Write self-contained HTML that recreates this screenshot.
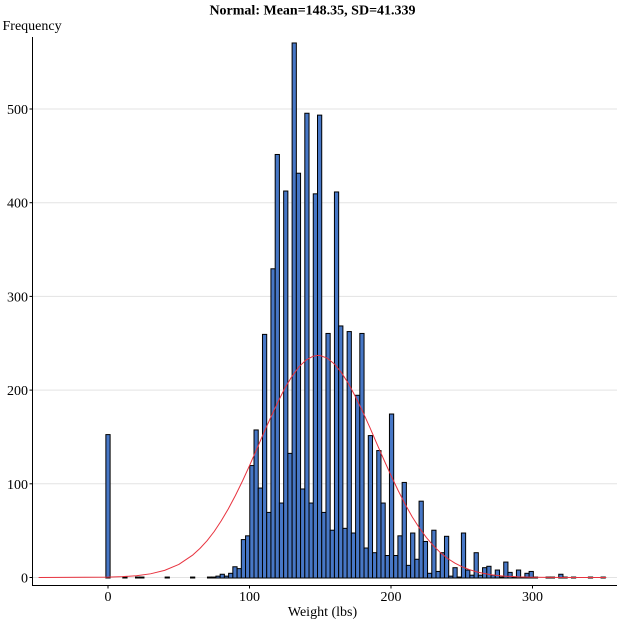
<!DOCTYPE html>
<html><head><meta charset="utf-8"><style>
html,body{margin:0;padding:0;background:#fff;}
svg{display:block;}
text{font-family:"Liberation Serif","Times New Roman",serif;fill:#000;}
</style></head><body>
<svg width="625" height="625" viewBox="0 0 625 625" xmlns="http://www.w3.org/2000/svg">
<rect width="625" height="625" fill="#fff"/>
<g stroke="#e3e3e3" stroke-width="1">
<line x1="33" x2="617" y1="577.5" y2="577.5"/>
<line x1="33" x2="617" y1="483.8" y2="483.8"/>
<line x1="33" x2="617" y1="390.1" y2="390.1"/>
<line x1="33" x2="617" y1="296.4" y2="296.4"/>
<line x1="33" x2="617" y1="202.7" y2="202.7"/>
<line x1="33" x2="617" y1="109" y2="109"/>
</g>
<g fill="#4777c6" stroke="#000" stroke-width="1">
<rect x="105.88" y="434.6" width="4.23" height="143.4"/>
<rect x="122.81" y="577.06" width="4.23" height="0.94"/>
<rect x="135.51" y="577.06" width="4.23" height="0.94"/>
<rect x="139.74" y="577.06" width="4.23" height="0.94"/>
<rect x="165.14" y="577.06" width="4.23" height="0.94"/>
<rect x="190.53" y="577.06" width="4.23" height="0.94"/>
<rect x="207.46" y="577.06" width="4.23" height="0.94"/>
<rect x="211.69" y="577.06" width="4.23" height="0.94"/>
<rect x="215.92" y="576.13" width="4.23" height="1.87"/>
<rect x="220.16" y="574.25" width="4.23" height="3.75"/>
<rect x="224.39" y="576.13" width="4.23" height="1.87"/>
<rect x="228.62" y="573.31" width="4.23" height="4.69"/>
<rect x="232.85" y="566.76" width="4.23" height="11.24"/>
<rect x="237.09" y="568.63" width="4.23" height="9.37"/>
<rect x="241.32" y="539.58" width="4.23" height="38.42"/>
<rect x="245.55" y="535.83" width="4.23" height="42.17"/>
<rect x="249.78" y="465.56" width="4.23" height="112.44"/>
<rect x="254.01" y="429.95" width="4.23" height="148.05"/>
<rect x="258.25" y="488.05" width="4.23" height="89.95"/>
<rect x="262.48" y="334.38" width="4.23" height="243.62"/>
<rect x="266.71" y="512.41" width="4.23" height="65.59"/>
<rect x="270.94" y="268.79" width="4.23" height="309.21"/>
<rect x="275.18" y="154.48" width="4.23" height="423.52"/>
<rect x="279.41" y="503.04" width="4.23" height="74.96"/>
<rect x="283.64" y="191.02" width="4.23" height="386.98"/>
<rect x="287.87" y="453.38" width="4.23" height="124.62"/>
<rect x="292.11" y="42.97" width="4.23" height="535.03"/>
<rect x="296.34" y="173.22" width="4.23" height="404.78"/>
<rect x="300.57" y="488.98" width="4.23" height="89.02"/>
<rect x="304.80" y="113.25" width="4.23" height="464.75"/>
<rect x="309.04" y="503.04" width="4.23" height="74.96"/>
<rect x="313.27" y="193.83" width="4.23" height="384.17"/>
<rect x="317.50" y="115.12" width="4.23" height="462.88"/>
<rect x="321.73" y="512.41" width="4.23" height="65.59"/>
<rect x="325.96" y="333.44" width="4.23" height="244.56"/>
<rect x="330.20" y="530.21" width="4.23" height="47.79"/>
<rect x="334.43" y="191.96" width="4.23" height="386.04"/>
<rect x="338.66" y="325.95" width="4.23" height="252.05"/>
<rect x="342.89" y="528.34" width="4.23" height="49.66"/>
<rect x="347.13" y="331.57" width="4.23" height="246.43"/>
<rect x="351.36" y="533.02" width="4.23" height="44.98"/>
<rect x="355.59" y="395.28" width="4.23" height="182.72"/>
<rect x="359.82" y="333.44" width="4.23" height="244.56"/>
<rect x="364.05" y="548.02" width="4.23" height="29.98"/>
<rect x="368.29" y="435.58" width="4.23" height="142.42"/>
<rect x="372.52" y="552.70" width="4.23" height="25.30"/>
<rect x="376.75" y="450.57" width="4.23" height="127.43"/>
<rect x="380.98" y="503.04" width="4.23" height="74.96"/>
<rect x="385.22" y="555.51" width="4.23" height="22.49"/>
<rect x="389.45" y="414.02" width="4.23" height="163.98"/>
<rect x="393.68" y="555.51" width="4.23" height="22.49"/>
<rect x="397.91" y="535.83" width="4.23" height="42.17"/>
<rect x="402.15" y="482.43" width="4.23" height="95.57"/>
<rect x="406.38" y="565.35" width="4.23" height="12.65"/>
<rect x="410.61" y="533.02" width="4.23" height="44.98"/>
<rect x="414.84" y="559.26" width="4.23" height="18.74"/>
<rect x="419.07" y="501.17" width="4.23" height="76.83"/>
<rect x="423.31" y="541.46" width="4.23" height="36.54"/>
<rect x="427.54" y="573.31" width="4.23" height="4.69"/>
<rect x="431.77" y="530.21" width="4.23" height="47.79"/>
<rect x="436.00" y="571.44" width="4.23" height="6.56"/>
<rect x="440.24" y="552.70" width="4.23" height="25.30"/>
<rect x="444.47" y="536.30" width="4.23" height="41.70"/>
<rect x="448.70" y="576.13" width="4.23" height="1.87"/>
<rect x="452.93" y="567.69" width="4.23" height="10.31"/>
<rect x="457.17" y="577.06" width="4.23" height="0.94"/>
<rect x="461.40" y="533.02" width="4.23" height="44.98"/>
<rect x="465.63" y="570.04" width="4.23" height="7.96"/>
<rect x="469.86" y="575.19" width="4.23" height="2.81"/>
<rect x="474.09" y="552.70" width="4.23" height="25.30"/>
<rect x="478.33" y="575.19" width="4.23" height="2.81"/>
<rect x="482.56" y="567.69" width="4.23" height="10.31"/>
<rect x="486.79" y="566.29" width="4.23" height="11.71"/>
<rect x="491.02" y="575.19" width="4.23" height="2.81"/>
<rect x="495.26" y="570.04" width="4.23" height="7.96"/>
<rect x="499.49" y="577.06" width="4.23" height="0.94"/>
<rect x="503.72" y="562.07" width="4.23" height="15.93"/>
<rect x="507.95" y="572.38" width="4.23" height="5.62"/>
<rect x="512.19" y="577.06" width="4.23" height="0.94"/>
<rect x="516.42" y="570.04" width="4.23" height="7.96"/>
<rect x="520.65" y="577.06" width="4.23" height="0.94"/>
<rect x="524.88" y="573.31" width="4.23" height="4.69"/>
<rect x="529.11" y="571.44" width="4.23" height="6.56"/>
<rect x="533.35" y="577.06" width="4.23" height="0.94"/>
<rect x="546.04" y="577.06" width="4.23" height="0.94"/>
<rect x="550.28" y="577.06" width="4.23" height="0.94"/>
<rect x="558.74" y="574.25" width="4.23" height="3.75"/>
<rect x="562.97" y="577.06" width="4.23" height="0.94"/>
<rect x="571.44" y="577.06" width="4.23" height="0.94"/>
<rect x="588.37" y="577.06" width="4.23" height="0.94"/>
<rect x="601.06" y="577.06" width="4.23" height="0.94"/>
</g>
<polyline fill="none" stroke="#e8333f" stroke-width="1" stroke-linejoin="round" points="38.6,577.5 108,577.14 122.2,576.68 136.3,575.71 150.5,573.81 164.6,570.38 178.8,564.47 192.9,554.9 200,548.4 207.1,540.7 214.2,531.5 221.2,520.9 228.3,508.9 235.4,495.5 242.5,481.0 249.6,465.4 256.6,449.4 263.7,433.1 270.8,417.2 277.9,402.0 284.9,388.1 292.0,376.3 299.1,366.7 306.2,359.9 313.2,356.2 318,355.4 320.3,355.6 327.4,358.2 334.5,364.1 341.6,372.8 348.6,383.9 355.7,397.1 362.8,411.8 369.9,427.6 376.9,443.8 384.0,460.0 391.1,475.7 398.2,490.6 405.3,504.5 412.3,517.0 419.4,528.0 426.5,537.7 433.6,545.9 440.6,552.8 447.7,558.5 454.8,563.1 461.9,566.7 469.0,569.5 476.0,571.7 483.1,573.3 490.2,574.6 497.3,575.5 504.3,576.1 518.5,576.9 532.7,577.2 546.8,577.4 575.1,577.5 606.3,577.5"/>
<g stroke="#000" stroke-width="1" fill="none">
<line x1="32.5" y1="37" x2="32.5" y2="586"/>
<line x1="32" y1="585.5" x2="617" y2="585.5"/>
<line x1="29.5" y1="577.5" x2="32.5" y2="577.5"/>
<line x1="29.5" y1="483.8" x2="32.5" y2="483.8"/>
<line x1="29.5" y1="390.1" x2="32.5" y2="390.1"/>
<line x1="29.5" y1="296.4" x2="32.5" y2="296.4"/>
<line x1="29.5" y1="202.7" x2="32.5" y2="202.7"/>
<line x1="29.5" y1="109" x2="32.5" y2="109"/>
<line x1="108" y1="585.5" x2="108" y2="588.5"/>
<line x1="249.5" y1="585.5" x2="249.5" y2="588.5"/>
<line x1="391" y1="585.5" x2="391" y2="588.5"/>
<line x1="532.5" y1="585.5" x2="532.5" y2="588.5"/>
</g>
<g font-size="14" text-anchor="end">
<text x="28" y="582.5">0</text>
<text x="28" y="488.8">100</text>
<text x="28" y="395.1">200</text>
<text x="28" y="301.4">300</text>
<text x="28" y="207.7">400</text>
<text x="28" y="114">500</text>
</g>
<g font-size="14" text-anchor="middle">
<text x="108" y="601">0</text>
<text x="249.5" y="601">100</text>
<text x="391" y="601">200</text>
<text x="532.5" y="601">300</text>
<text x="322.5" y="616">Weight (lbs)</text>
<text x="312.5" y="14.5" font-weight="bold">Normal: Mean=148.35, SD=41.339</text>
</g>
<text x="2.5" y="30" font-size="14">Frequency</text>
</svg>
</body></html>
